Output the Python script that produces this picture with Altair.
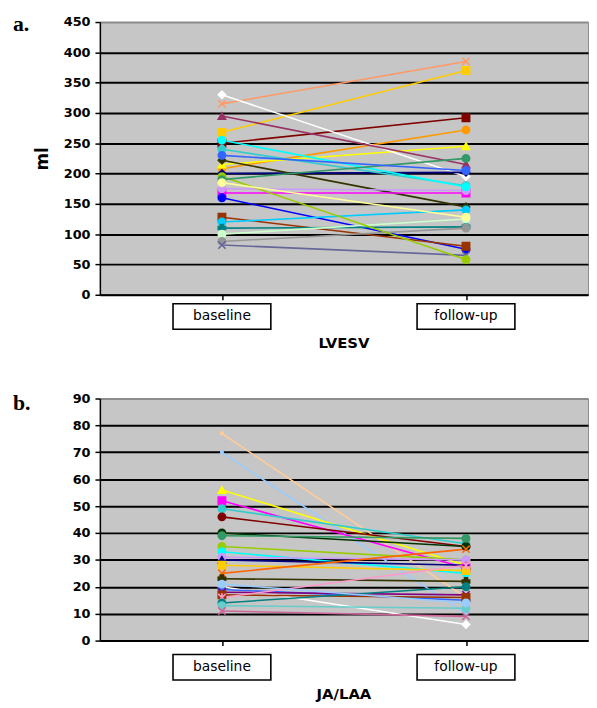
import altair as alt
import pandas as pd

times = ["baseline", "follow-up"]

# ---- Panel a: LVESV (ml) ----
lvesv_base = [315, 268, 250, 208, 215, 330, 295, 200, 222, 240, 168, 175,
              160, 128, 120, 110, 100, 88, 82, 195, 255, 190, 185, 230]
lvesv_follow = [385, 370, 292, 272, 245, 195, 215, 202, 145, 180, 168, 172,
                75, 80, 140, 112, 125, 110, 65, 58, 178, 225, 128, 205]
colors_a = ["#FF9966", "#FFCC00", "#800000", "#FF9900", "#FFFF00", "#FFFFFF",
            "#993366", "#000080", "#333300", "#33CCCC", "#FF00FF", "#CC99FF",
            "#0000FF", "#993300", "#00CCFF", "#008080", "#CCFFCC", "#969696",
            "#666699", "#99CC00", "#00FFFF", "#339966", "#FFFF99", "#3366FF"]

# ---- Panel b: JA/LAA ----
jalaa_base = [77, 70, 56, 52, 49, 46, 40, 39, 35, 33, 31, 30,
              28, 25, 23, 20, 19, 18, 17, 16, 14, 13, 11, 21]
jalaa_follow = [16, 10, 28, 27, 36, 35, 35, 38, 30, 25, 30, 28,
                26, 34, 22, 6, 15, 17, 16, 28, 20, 12, 9, 14]
colors_b = ["#FFCC99", "#99CCFF", "#FFFF00", "#FF00FF", "#33CCCC", "#800000",
            "#003300", "#339966", "#99CC00", "#00FFFF", "#CC99FF", "#000080",
            "#FFCC00", "#FF6600", "#333300", "#FFFFFF", "#3366FF", "#800080",
            "#993300", "#FF99CC", "#008080", "#66CCCC", "#CC6699", "#99CCFF"]

XPATH = "M-1,-1L1,1M-1,1L1,-1"
STAR = "M-1,-1L1,1M-1,1L1,-1M0,-1.2L0,1.2"
DOT = "M-0.3,-0.3H0.3V0.3H-0.3Z"
shapes_a = [XPATH, "square", "square", "circle", "triangle-up", "diamond",
            "triangle-up", "diamond", "diamond", "circle", "square", "circle",
            "circle", "square", "circle", "cross", "circle", "circle",
            XPATH, "circle", "circle", "circle", "circle", "circle"]
shapes_b = [DOT, DOT, "triangle-up", "square", "circle", "circle",
            "circle", "circle", "circle", "circle", "circle", "triangle-up",
            "square", XPATH, "cross", "diamond", "circle", XPATH,
            "square", STAR, "circle", "circle", XPATH, "circle"]


def long_df(base, follow):
    rows = []
    for i, (b, f) in enumerate(zip(base, follow)):
        rows.append({"series": f"s{i+1}", "time": times[0], "value": b})
        rows.append({"series": f"s{i+1}", "time": times[1], "value": f})
    return pd.DataFrame(rows)


W = 494
BOX = "M-1,-0.26H1V0.26H-1Z"


def panel(base, follow, colors, shapes, ymax, step, height, ytitle,
          xtitle, letter, letter_y, box_dy, title_dy):
    df = long_df(base, follow)
    names = [f"s{i+1}" for i in range(len(base))]
    x = alt.X("time:N",
              scale=alt.Scale(domain=times, paddingInner=0, paddingOuter=0),
              axis=alt.Axis(title=None, labels=False, bandPosition=0,
                            tickSize=5, tickColor="black", tickWidth=1.5,
                            domainColor="black", domainWidth=1.5, grid=False))
    yaxis_kw = dict(values=list(range(0, ymax + 1, step)), grid=True,
                    gridColor={"condition": {"test": f"datum.value >= {ymax}",
                                             "value": "#8c8c8c"},
                               "value": "#000000"},
                    gridWidth=2, tickSize=5, tickColor="black", tickWidth=1.5,
                    domainColor="black", domainWidth=1.5, labelPadding=5,
                    labelFont="DejaVu Sans", labelFontWeight="bold",
                    labelFontSize=13, labelColor="black")
    if ytitle:
        yaxis_kw.update(title=ytitle, titleFont="DejaVu Sans",
                        titleFontWeight="bold", titleFontSize=17,
                        titleColor="black", titlePadding=12)
    else:
        yaxis_kw.update(title=None)
    y = alt.Y("value:Q", scale=alt.Scale(domain=[0, ymax], nice=False),
              axis=alt.Axis(**yaxis_kw))
    cscale = alt.Scale(domain=names, range=colors)
    sscale = alt.Scale(domain=names, range=shapes)
    lines = alt.Chart(df).mark_line(strokeWidth=1.6).encode(
        x=x, y=y, color=alt.Color("series:N", scale=cscale, legend=None))
    pts = alt.Chart(df).mark_point(filled=True, size=55, strokeWidth=1.6,
                                   opacity=1).encode(
        x=x, y=y,
        fill=alt.Fill("series:N", scale=cscale, legend=None),
        stroke=alt.Stroke("series:N", scale=cscale, legend=None),
        shape=alt.Shape("series:N", scale=sscale, legend=None))
    lab = pd.DataFrame({"time": times})
    boxes = alt.Chart(lab).mark_point(shape=BOX, size=9800, filled=True,
                                      fill="white", stroke="black",
                                      strokeWidth=1.6, opacity=1).encode(
        x=alt.X("time:N", scale=alt.Scale(domain=times)),
        y=alt.value(height + box_dy))
    texts = alt.Chart(lab).mark_text(font="DejaVu Sans", fontSize=14,
                                     baseline="middle", color="black").encode(
        x=alt.X("time:N", scale=alt.Scale(domain=times)),
        y=alt.value(height + box_dy), text="time:N")
    xt = alt.Chart(pd.DataFrame({"t": [xtitle]})).mark_text(
        font="DejaVu Sans", fontSize=15, fontWeight="bold", baseline="middle",
        color="black").encode(x=alt.value(W / 2), y=alt.value(height + title_dy),
                              text="t:N")
    lt = alt.Chart(pd.DataFrame({"t": [letter]})).mark_text(
        font="Liberation Serif", fontSize=22, fontWeight="bold",
        baseline="alphabetic", align="left", color="black").encode(
        x=alt.value(-88), y=alt.value(letter_y), text="t:N")
    return alt.layer(lines, pts, boxes, texts, xt, lt).properties(
        width=W, height=height
    ).resolve_scale(color="independent", fill="independent",
                    stroke="independent", shape="independent")


pa = panel(lvesv_base, lvesv_follow, colors_a, shapes_a, 450, 50, 276, "ml",
           "LVESV", "a.", 9, 22, 49)
pb = panel(jalaa_base, jalaa_follow, colors_b, shapes_b, 90, 10, 245, None,
           "JA/LAA", "b.", 12, 27, 54)

chart = alt.vconcat(pa, pb, spacing=40).resolve_scale(
    color="independent", fill="independent", stroke="independent",
    shape="independent"
).properties(
    padding={"left": 4, "top": 0, "right": 0, "bottom": 0},
    background="white"
).configure_view(fill="#c6c6c6", stroke="#8c8c8c", strokeWidth=1)

chart.save("out.html", embed_options={"renderer": "svg", "actions": False})
